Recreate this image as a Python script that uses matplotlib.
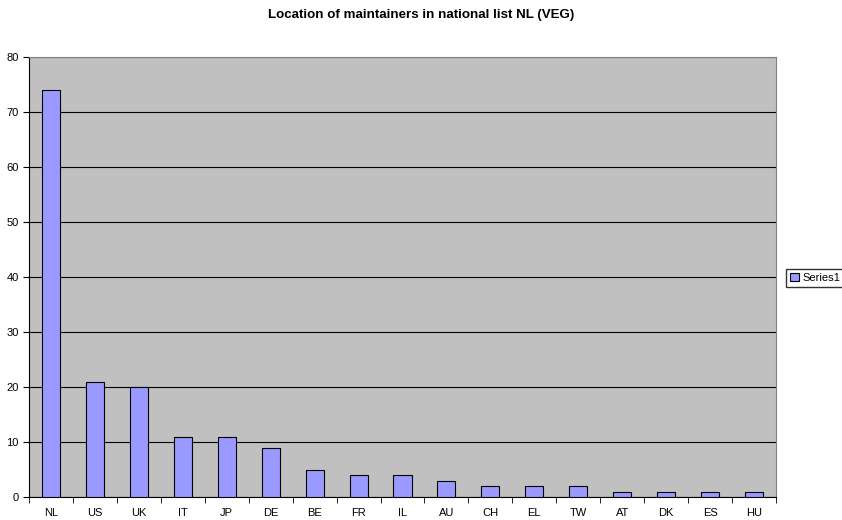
import matplotlib
matplotlib.use("Agg")
import matplotlib.pyplot as plt
from matplotlib.patches import Patch

countries = ["NL", "US", "UK", "IT", "JP", "DE", "BE", "FR", "IL", "AU",
             "CH", "EL", "TW", "AT", "DK", "ES", "HU"]
maintainers = [74, 21, 20, 11, 11, 9, 5, 4, 4, 3, 2, 2, 2, 1, 1, 1, 1]

plt.rcParams['font.family'] = ['Liberation Sans', 'DejaVu Sans']

fig = plt.figure(figsize=(8.42, 5.2), dpi=100)
ax = fig.add_axes([29 / 842, 23 / 520, 747 / 842, 440 / 520])
ax.set_facecolor("#C0C0C0")

xs = range(len(countries))
ax.bar(xs, maintainers, width=0.41, color="#9999FF", edgecolor="black",
       linewidth=0.8, zorder=3)

ax.set_xlim(-0.5, len(countries) - 0.5)
ax.set_ylim(0, 80)
ax.set_yticks(range(0, 81, 10))
ax.yaxis.grid(True, color="black", linewidth=0.8, zorder=1)
ax.set_axisbelow(True)

ax.set_xticks(list(xs))
ax.set_xticklabels(countries, fontsize=8)
ax.set_xticks([i - 0.5 for i in range(len(countries) + 1)], minor=True)
ax.tick_params(axis="x", which="major", length=0, pad=8)
ax.tick_params(axis="x", which="minor", length=4, direction="out")
ax.tick_params(axis="y", length=4, direction="out", labelsize=8)

for side in ["top", "right"]:
    ax.spines[side].set_color("#808080")
ax.spines["left"].set_color("black")
ax.spines["bottom"].set_color("black")

fig.text(0.5, 1 - 15 / 520, "Location of maintainers in national list NL (VEG)",
         ha="center", va="center", fontsize=9.6, fontweight="bold")

handle = Patch(facecolor="#9999FF", edgecolor="black", linewidth=0.8)
fig.legend([handle], ["Series1"], loc="center left",
           bbox_to_anchor=(786 / 842, 1 - 278 / 520), fontsize=8,
           frameon=True, fancybox=False, edgecolor="black",
           handlelength=0.8, handleheight=0.8, handletextpad=0.3,
           borderpad=0.35, borderaxespad=0)

fig.savefig("out.png", dpi=100)
